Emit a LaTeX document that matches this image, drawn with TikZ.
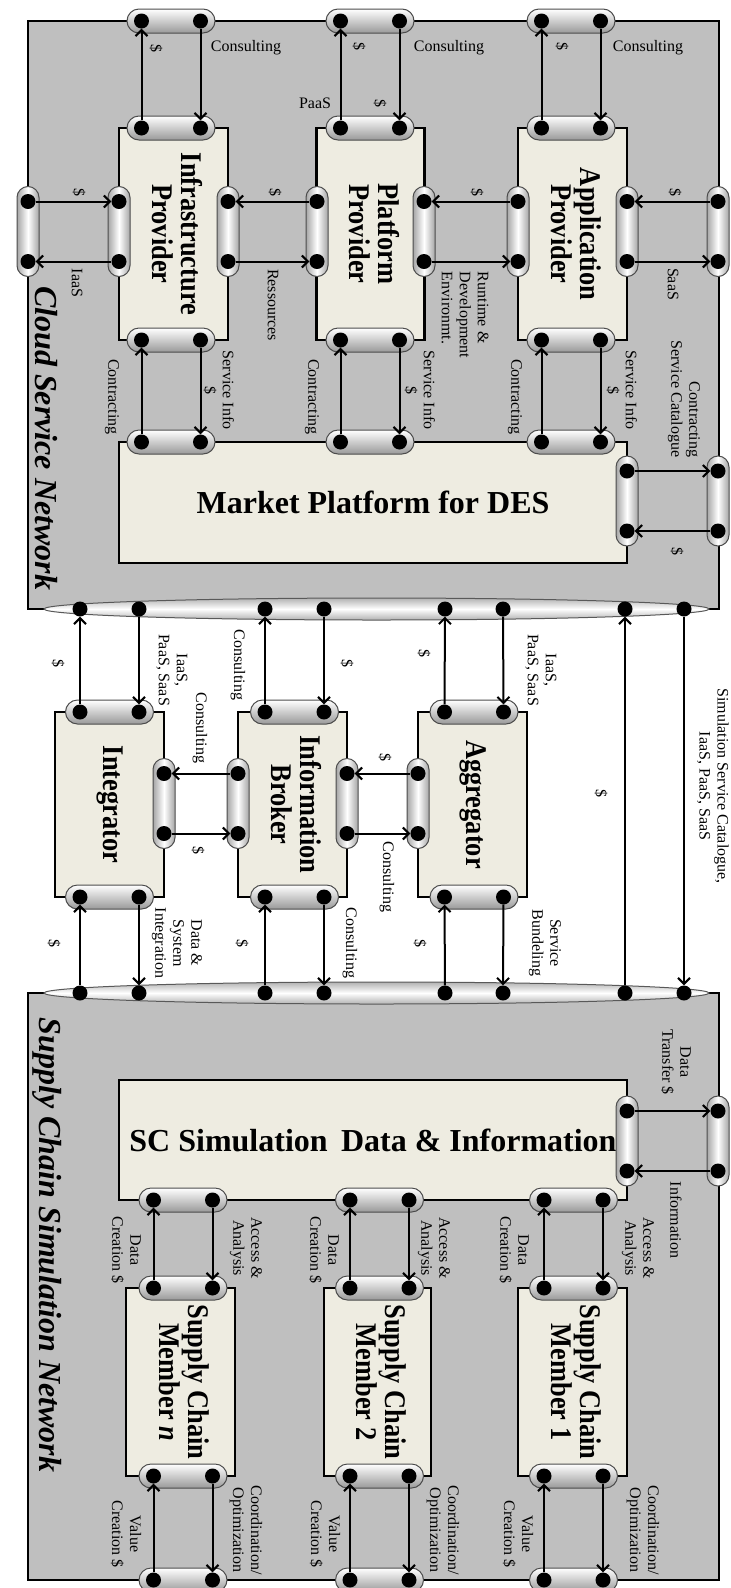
\documentclass[tikz,border=0pt]{standalone}
\usepackage{fontspec}
\setmainfont{Liberation Serif}
\usepackage{graphicx}
\usetikzlibrary{arrows.meta,shapes.geometric}
\definecolor{netgray}{RGB}{191,191,191}
\definecolor{boxcream}{RGB}{238,236,225}
\tikzset{
  netbox/.style={draw=black, line width=2.2pt, fill=netgray, inner sep=0pt, rectangle},
  entity/.style={draw=black, line width=2.2pt, fill=boxcream, inner sep=0pt, rectangle, align=center},
  hcapsule/.style={draw=black!70, line width=1pt, rounded corners=12pt, minimum width=88pt, minimum height=24pt, top color=white, bottom color=black!40, inner sep=0pt},
  vcapsule/.style={draw=black!70, line width=1pt, rounded corners=11pt, minimum width=22pt, minimum height=90pt, left color=black!35, right color=black!35, middle color=white, inner sep=0pt},
  busline/.style={ellipse, draw=black!65, line width=1pt, minimum width=665pt, minimum height=22pt, inner sep=0pt, top color=black!30, bottom color=black!30, middle color=white},
  dot/.style={circle, fill=black, minimum size=15pt, inner sep=0pt},
  flow/.style={line width=2pt, -{Straight Barb[length=6pt,width=12pt,line width=2pt]}},
  lbl/.style={font=\fontsize{16}{18}\selectfont, align=center, inner sep=0pt},
  rlbl/.style={lbl, rotate=-90},
  nettitle/.style={rotate=-90, font=\fontsize{32}{34}\selectfont\bfseries\itshape, inner sep=0pt}
}
\newcommand\boxtitle[1]{\scalebox{0.88}[1]{\fontsize{30}{28}\selectfont\bfseries\begin{tabular}{@{}c@{}}#1\end{tabular}}}
\newcommand\flattitle[1]{\fontsize{32}{34}\selectfont\bfseries #1}
\newcommand\mkhcap[3]{\node[hcapsule] (#1) at (#2,#3) {};
  \node[dot] (#1a) at ([xshift=-29.5pt]#1.center) {};
  \node[dot] (#1b) at ([xshift=29.5pt]#1.center) {};}
\newcommand\mkvcap[3]{\node[vcapsule] (#1) at (#2,#3) {};
  \node[dot] (#1a) at ([yshift=30pt]#1.center) {};
  \node[dot] (#1b) at ([yshift=-30pt]#1.center) {};}
\begin{document}
\begin{tikzpicture}[x=1pt,y=-1pt]
\useasboundingbox (0,0) rectangle (731,1588);
\fill[white] (0,0) rectangle (731,1588);

% network areas
\node[netbox, minimum width=691pt, minimum height=588pt] (cloudnet) at (373.5,315) {};
\node[netbox, minimum width=691pt, minimum height=587pt] (scnet) at (373.5,1286.5) {};

% entity boxes
\node[entity, rotate=-90, minimum width=212pt, minimum height=109pt] (infra) at (173.5,234) {\boxtitle{Infrastructure\\Provider}};
\node[entity, rotate=-90, minimum width=212pt, minimum height=108pt] (platf) at (370.5,234) {\boxtitle{Platform\\Provider}};
\node[entity, rotate=-90, minimum width=212pt, minimum height=109pt] (applp) at (572.5,234) {\boxtitle{Application\\Provider}};
\node[entity, minimum width=508pt, minimum height=121pt] (market) at (373,502.5) {\flattitle{Market Platform for DES}};
\node[entity, rotate=-90, minimum width=185pt, minimum height=109pt] (integ) at (109.5,804.5) {\boxtitle{Integrator}};
\node[entity, rotate=-90, minimum width=185pt, minimum height=109pt] (broker) at (292.5,804.5) {\boxtitle{Information\\Broker}};
\node[entity, rotate=-90, minimum width=185pt, minimum height=109pt] (aggr) at (472.5,804.5) {\boxtitle{Aggregator}};
\node[entity, minimum width=508pt, minimum height=120pt] (scdata) at (373,1140) {\flattitle{SC Simulation\, Data \& Information}};
\node[entity, rotate=-90, minimum width=188pt, minimum height=109pt] (memn) at (180.5,1382) {\boxtitle{Supply Chain\\Member \textit{n}}};
\node[entity, rotate=-90, minimum width=188pt, minimum height=107pt] (mem2) at (377.5,1382) {\boxtitle{Supply Chain\\Member 2}};
\node[entity, rotate=-90, minimum width=188pt, minimum height=109pt] (mem1) at (572.5,1382) {\boxtitle{Supply Chain\\Member 1}};

% bus ellipses
\node[busline] (upbus) at (376.5,609) {};
\node[busline] (lowbus) at (376.5,993) {};
\foreach \nm/\xx in {a/80,b/139,c/265,d/324,e/445,f/503,g/625,h/684} {
  \node[dot] (u\nm) at (\xx,609) {};
  \node[dot] (l\nm) at (\xx,993) {};
}

% horizontal capsules
\mkhcap{tI}{171}{21}\mkhcap{tP}{370}{21}\mkhcap{tA}{571}{21}
\mkhcap{bIt}{171}{128}\mkhcap{bPt}{370}{128}\mkhcap{bAt}{571}{128}
\mkhcap{bIb}{171}{340}\mkhcap{bPb}{370}{340}\mkhcap{bAb}{571}{340}
\mkhcap{mI}{171}{442}\mkhcap{mP}{370}{442}\mkhcap{mA}{571}{442}
\mkhcap{gIt}{109.5}{712}\mkhcap{gBt}{294.5}{712}\mkhcap{gAt}{474}{712}
\mkhcap{gIb}{109.5}{897}\mkhcap{gBb}{294.5}{897}\mkhcap{gAb}{474}{897}
\mkhcap{sN}{183}{1200}\mkhcap{sTwo}{379.5}{1200}\mkhcap{sOne}{573.5}{1200}
\mkhcap{nT}{183}{1288}\mkhcap{twoT}{379.5}{1288}\mkhcap{oneT}{573.5}{1288}
\mkhcap{nB}{183}{1476}\mkhcap{twoB}{379.5}{1476}\mkhcap{oneB}{573.5}{1476}
\mkhcap{zN}{183}{1580}\mkhcap{zTwo}{379.5}{1580}\mkhcap{zOne}{573.5}{1580}

% vertical capsules
\mkvcap{vL}{28}{231.5}\mkvcap{vIl}{119}{231.5}\mkvcap{vIr}{228}{231.5}
\mkvcap{vPl}{317}{231.5}\mkvcap{vPr}{424}{231.5}\mkvcap{vAl}{518}{231.5}
\mkvcap{vAr}{627}{231.5}\mkvcap{vR}{718}{231.5}
\mkvcap{vMr}{627}{501}\mkvcap{vMf}{718}{501}
\mkvcap{vGi}{164}{803.5}\mkvcap{vGbl}{238}{803.5}\mkvcap{vGbr}{347}{803.5}\mkvcap{vGal}{418}{803.5}
\mkvcap{vSr}{627}{1141}\mkvcap{vSf}{718}{1141}

% connectors: top
\draw[flow] (bIta) -- (tIa); \draw[flow] (tIb) -- (bItb);
\draw[flow] (bPta) -- (tPa); \draw[flow] (tPb) -- (bPtb);
\draw[flow] (bAta) -- (tAa); \draw[flow] (tAb) -- (bAtb);
% side row
\draw[flow] (vLa) -- (vIla); \draw[flow] (vIlb) -- (vLb);
\draw[flow] (vPla) -- (vIra); \draw[flow] (vIrb) -- (vPlb);
\draw[flow] (vAla) -- (vPra); \draw[flow] (vPrb) -- (vAlb);
\draw[flow] (vRa) -- (vAra); \draw[flow] (vArb) -- (vRb);
% providers - market
\draw[flow] (mIa) -- (bIba); \draw[flow] (bIbb) -- (mIb);
\draw[flow] (mPa) -- (bPba); \draw[flow] (bPbb) -- (mPb);
\draw[flow] (mAa) -- (bAba); \draw[flow] (bAbb) -- (mAb);
\draw[flow] (vMra) -- (vMfa); \draw[flow] (vMfb) -- (vMrb);
% upper bus
\draw[flow] (gIta) -- (ua); \draw[flow] (ub) -- (gItb);
\draw[flow] (gBta) -- (uc); \draw[flow] (ud) -- (gBtb);
\draw[flow] (gAta) -- (ue); \draw[flow] (uf) -- (gAtb);
% middle
\draw[flow] (vGbla) -- (vGia); \draw[flow] (vGib) -- (vGblb);
\draw[flow] (vGala) -- (vGbra); \draw[flow] (vGbrb) -- (vGalb);
% lower bus
\draw[flow] (la) -- (gIba); \draw[flow] (gIbb) -- (lb);
\draw[flow] (lc) -- (gBba); \draw[flow] (gBbb) -- (ld);
\draw[flow] (le) -- (gAba); \draw[flow] (gAbb) -- (lf);
\draw[flow] (lg) -- (ug); \draw[flow] (uh) -- (lh);
% sc data
\draw[flow] (vSra) -- (vSfa); \draw[flow] (vSfb) -- (vSrb);
\draw[flow] (nTa) -- (sNa); \draw[flow] (sNb) -- (nTb);
\draw[flow] (twoTa) -- (sTwoa); \draw[flow] (sTwob) -- (twoTb);
\draw[flow] (oneTa) -- (sOnea); \draw[flow] (sOneb) -- (oneTb);
\draw[flow] (zNa) -- (nBa); \draw[flow] (nBb) -- (zNb);
\draw[flow] (zTwoa) -- (twoBa); \draw[flow] (twoBb) -- (zTwob);
\draw[flow] (zOnea) -- (oneBa); \draw[flow] (oneBb) -- (zOneb);

% network titles
\node[nettitle] (cloudtitle) at (46,438) {Cloud Service Network};
\node[nettitle] (sctitle) at (47,1245) {Supply Chain Simulation Network};

% labels: top
\node[rlbl] (l01) at (156,48) {\$};
\node[lbl] (l02) at (246,48) {Consulting};
\node[rlbl] (l03) at (359,46) {\$};
\node[lbl] (l04) at (449,48) {Consulting};
\node[lbl] (l05) at (315,103) {PaaS};
\node[rlbl] (l06) at (380,103) {\$};
\node[rlbl] (l07) at (562,46) {\$};
\node[lbl] (l08) at (648,48) {Consulting};
% side row
\node[rlbl] (l09) at (79,192) {\$};
\node[rlbl] (l10) at (77,283) {IaaS};
\node[rlbl] (l11) at (275,192) {\$};
\node[rlbl] (l12) at (273,305) {Ressources};
\node[rlbl] (l13) at (477,192) {\$};
\node[rlbl, align=left] (l14) at (465,315) {Runtime \&\\Development\\Environmt.};
\node[rlbl] (l15) at (675,192) {\$};
\node[rlbl] (l16) at (673,284) {SaaS};
% providers - market
\node[rlbl] (l17) at (112,397) {Contracting};
\node[rlbl] (l18) at (219,390) {Service Info\\\$};
\node[rlbl] (l19) at (312,397) {Contracting};
\node[rlbl] (l20) at (420,390) {Service Info\\\$};
\node[rlbl] (l21) at (515,397) {Contracting};
\node[rlbl] (l22) at (622,390) {Service Info\\\$};
\node[rlbl, align=right] (l23) at (684,399) {Contracting\\Service Catalogue};
\node[rlbl] (l24) at (677,551) {\$};
% upper bus
\node[rlbl] (l25) at (58,663) {\$};
\node[rlbl] (l26) at (172,670) {IaaS,\\PaaS, SaaS};
\node[rlbl] (l27) at (238,665) {Consulting};
\node[rlbl] (l28) at (347,663) {\$};
\node[rlbl] (l29) at (424,653) {\$};
\node[rlbl] (l30) at (541,670) {IaaS,\\PaaS, SaaS};
% middle
\node[rlbl] (l31) at (200,728) {Consulting};
\node[rlbl] (l32) at (198,850) {\$};
\node[rlbl] (l33) at (385,757) {\$};
\node[rlbl] (l34) at (387,877) {Consulting};
% lower bus
\node[rlbl] (l35) at (54,943) {\$};
\node[rlbl] (l36) at (177,943) {Data \&\\System\\Integration};
\node[rlbl] (l37) at (242,943) {\$};
\node[rlbl] (l38) at (350,943) {Consulting};
\node[rlbl] (l39) at (420,943) {\$};
\node[rlbl] (l40) at (545,943) {Service\\Bundeling};
\node[rlbl] (l41) at (601,793) {\$};
\node[rlbl] (l42) at (713,786) {Simulation Service Catalogue,\\IaaS, PaaS, SaaS};
% sc data
\node[rlbl] (l43) at (676,1062) {Data\\Transfer \$};
\node[rlbl] (l44) at (676,1220) {Information};
\node[rlbl] (l45) at (126,1250) {Data\\Creation \$};
\node[rlbl] (l46) at (246,1248) {Access \&\\Analysis};
\node[rlbl] (l47) at (324,1250) {Data\\Creation \$};
\node[rlbl] (l48) at (434,1248) {Access \&\\Analysis};
\node[rlbl] (l49) at (514,1250) {Data\\Creation \$};
\node[rlbl] (l50) at (638,1248) {Access \&\\Analysis};
\node[rlbl] (l51) at (126,1534) {Value\\Creation \$};
\node[rlbl] (l52) at (246,1530) {Coordination/\\Optimization};
\node[rlbl] (l53) at (325,1534) {Value\\Creation \$};
\node[rlbl] (l54) at (443,1530) {Coordination/\\Optimization};
\node[rlbl] (l55) at (518,1534) {Value\\Creation \$};
\node[rlbl] (l56) at (643,1530) {Coordination/\\Optimization};
\end{tikzpicture}
\end{document}
